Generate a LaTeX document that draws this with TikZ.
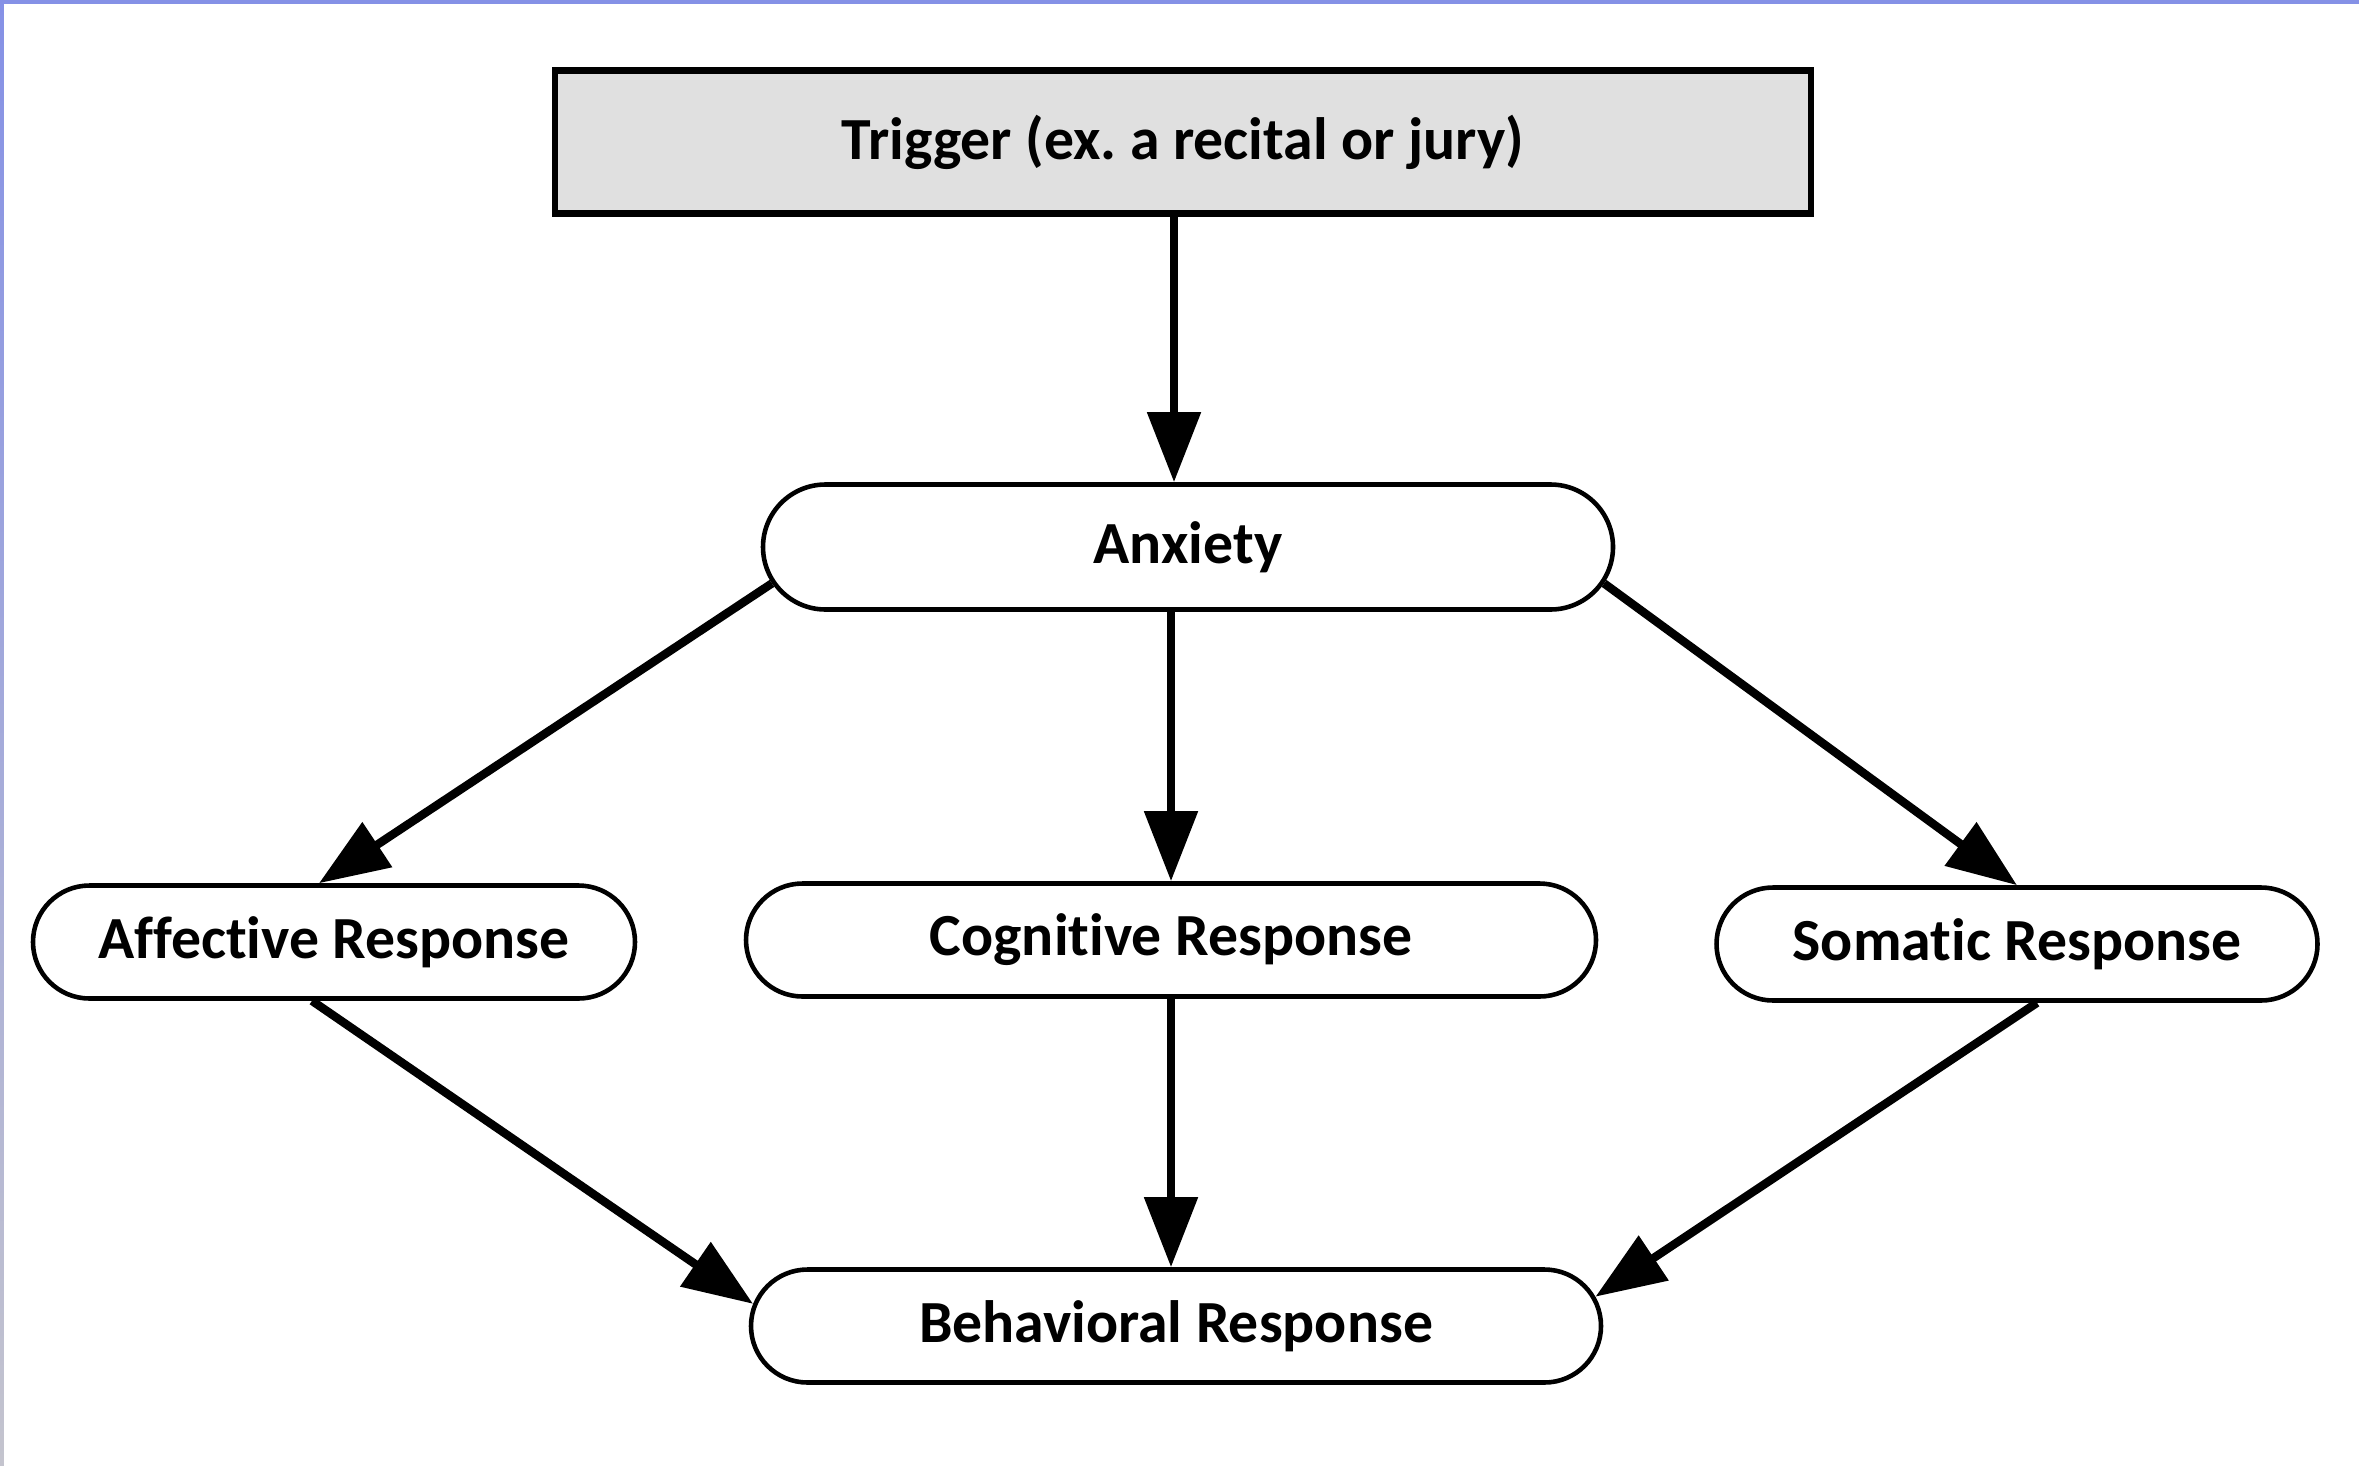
\documentclass[tikz,border=0pt]{standalone}
\usepackage{fontspec}
\setmainfont{Carlito}[Ligatures={NoCommon,NoRequired,NoContextual},RawFeature={-liga,-clig,-calt,-dlig}]
\usetikzlibrary{shapes.misc,arrows.meta}
\definecolor{trigfill}{RGB}{224,224,224}
\definecolor{edgeblue}{RGB}{133,145,230}
\definecolor{edgegray}{RGB}{196,196,206}
\tikzset{
  resp/.style={draw,line width=1.3pt,rounded rectangle,minimum height=1.13cm,inner sep=0pt,
    font=\bfseries\fontsize{17}{20}\selectfont},
  trigbox/.style={draw,line width=1.9pt,fill=trigfill,minimum width=12.56cm,minimum height=1.43cm,
    font=\bfseries\fontsize{17}{20}\selectfont},
  arw/.style={line width=2.4pt,-{Triangle[length=0.7cm,width=0.52cm]}}
}
\frenchspacing
\begin{document}
\begin{tikzpicture}
\useasboundingbox (0,0) rectangle (23.59,14.65);
\fill[edgeblue] (0,14.61) rectangle (23.59,14.65);
\shade[top color=edgeblue,bottom color=edgegray] (0,0) rectangle (0.04,14.65);

\node[trigbox] (trig) at (11.83,13.23) {Trigger (ex. a recital or jury)};
\node[resp,minimum width=8.5cm,minimum height=1.25cm] (anx) at (11.88,9.18) {Anxiety};
\node[resp,minimum width=6.02cm] (aff) at (3.34,5.23) {Affective Response};
\node[resp,minimum width=8.5cm] (cog) at (11.71,5.25) {Cognitive Response};
\node[resp,minimum width=6.01cm] (som) at (20.17,5.21) {Somatic Response};
\node[resp,minimum width=8.5cm] (beh) at (11.76,1.39) {Behavioral Response};

\draw[arw] ([xshift=-0.09cm]trig.south) -- ([xshift=-0.09cm]trig.south |- anx.north);
\draw[arw] (anx.185) -- ([xshift=-0.15cm]aff.north);
\draw[arw] (cog.north |- anx.south) -- (cog.north);
\draw[arw] (anx.-5) -- (som.north);
\draw[arw] ([xshift=-0.22cm]aff.south) -- (beh.177);
\draw[arw] (cog.south) -- (cog.south |- beh.north);
\draw[arw] ([xshift=0.2cm]som.south) -- (beh.4);
\end{tikzpicture}
\end{document}
